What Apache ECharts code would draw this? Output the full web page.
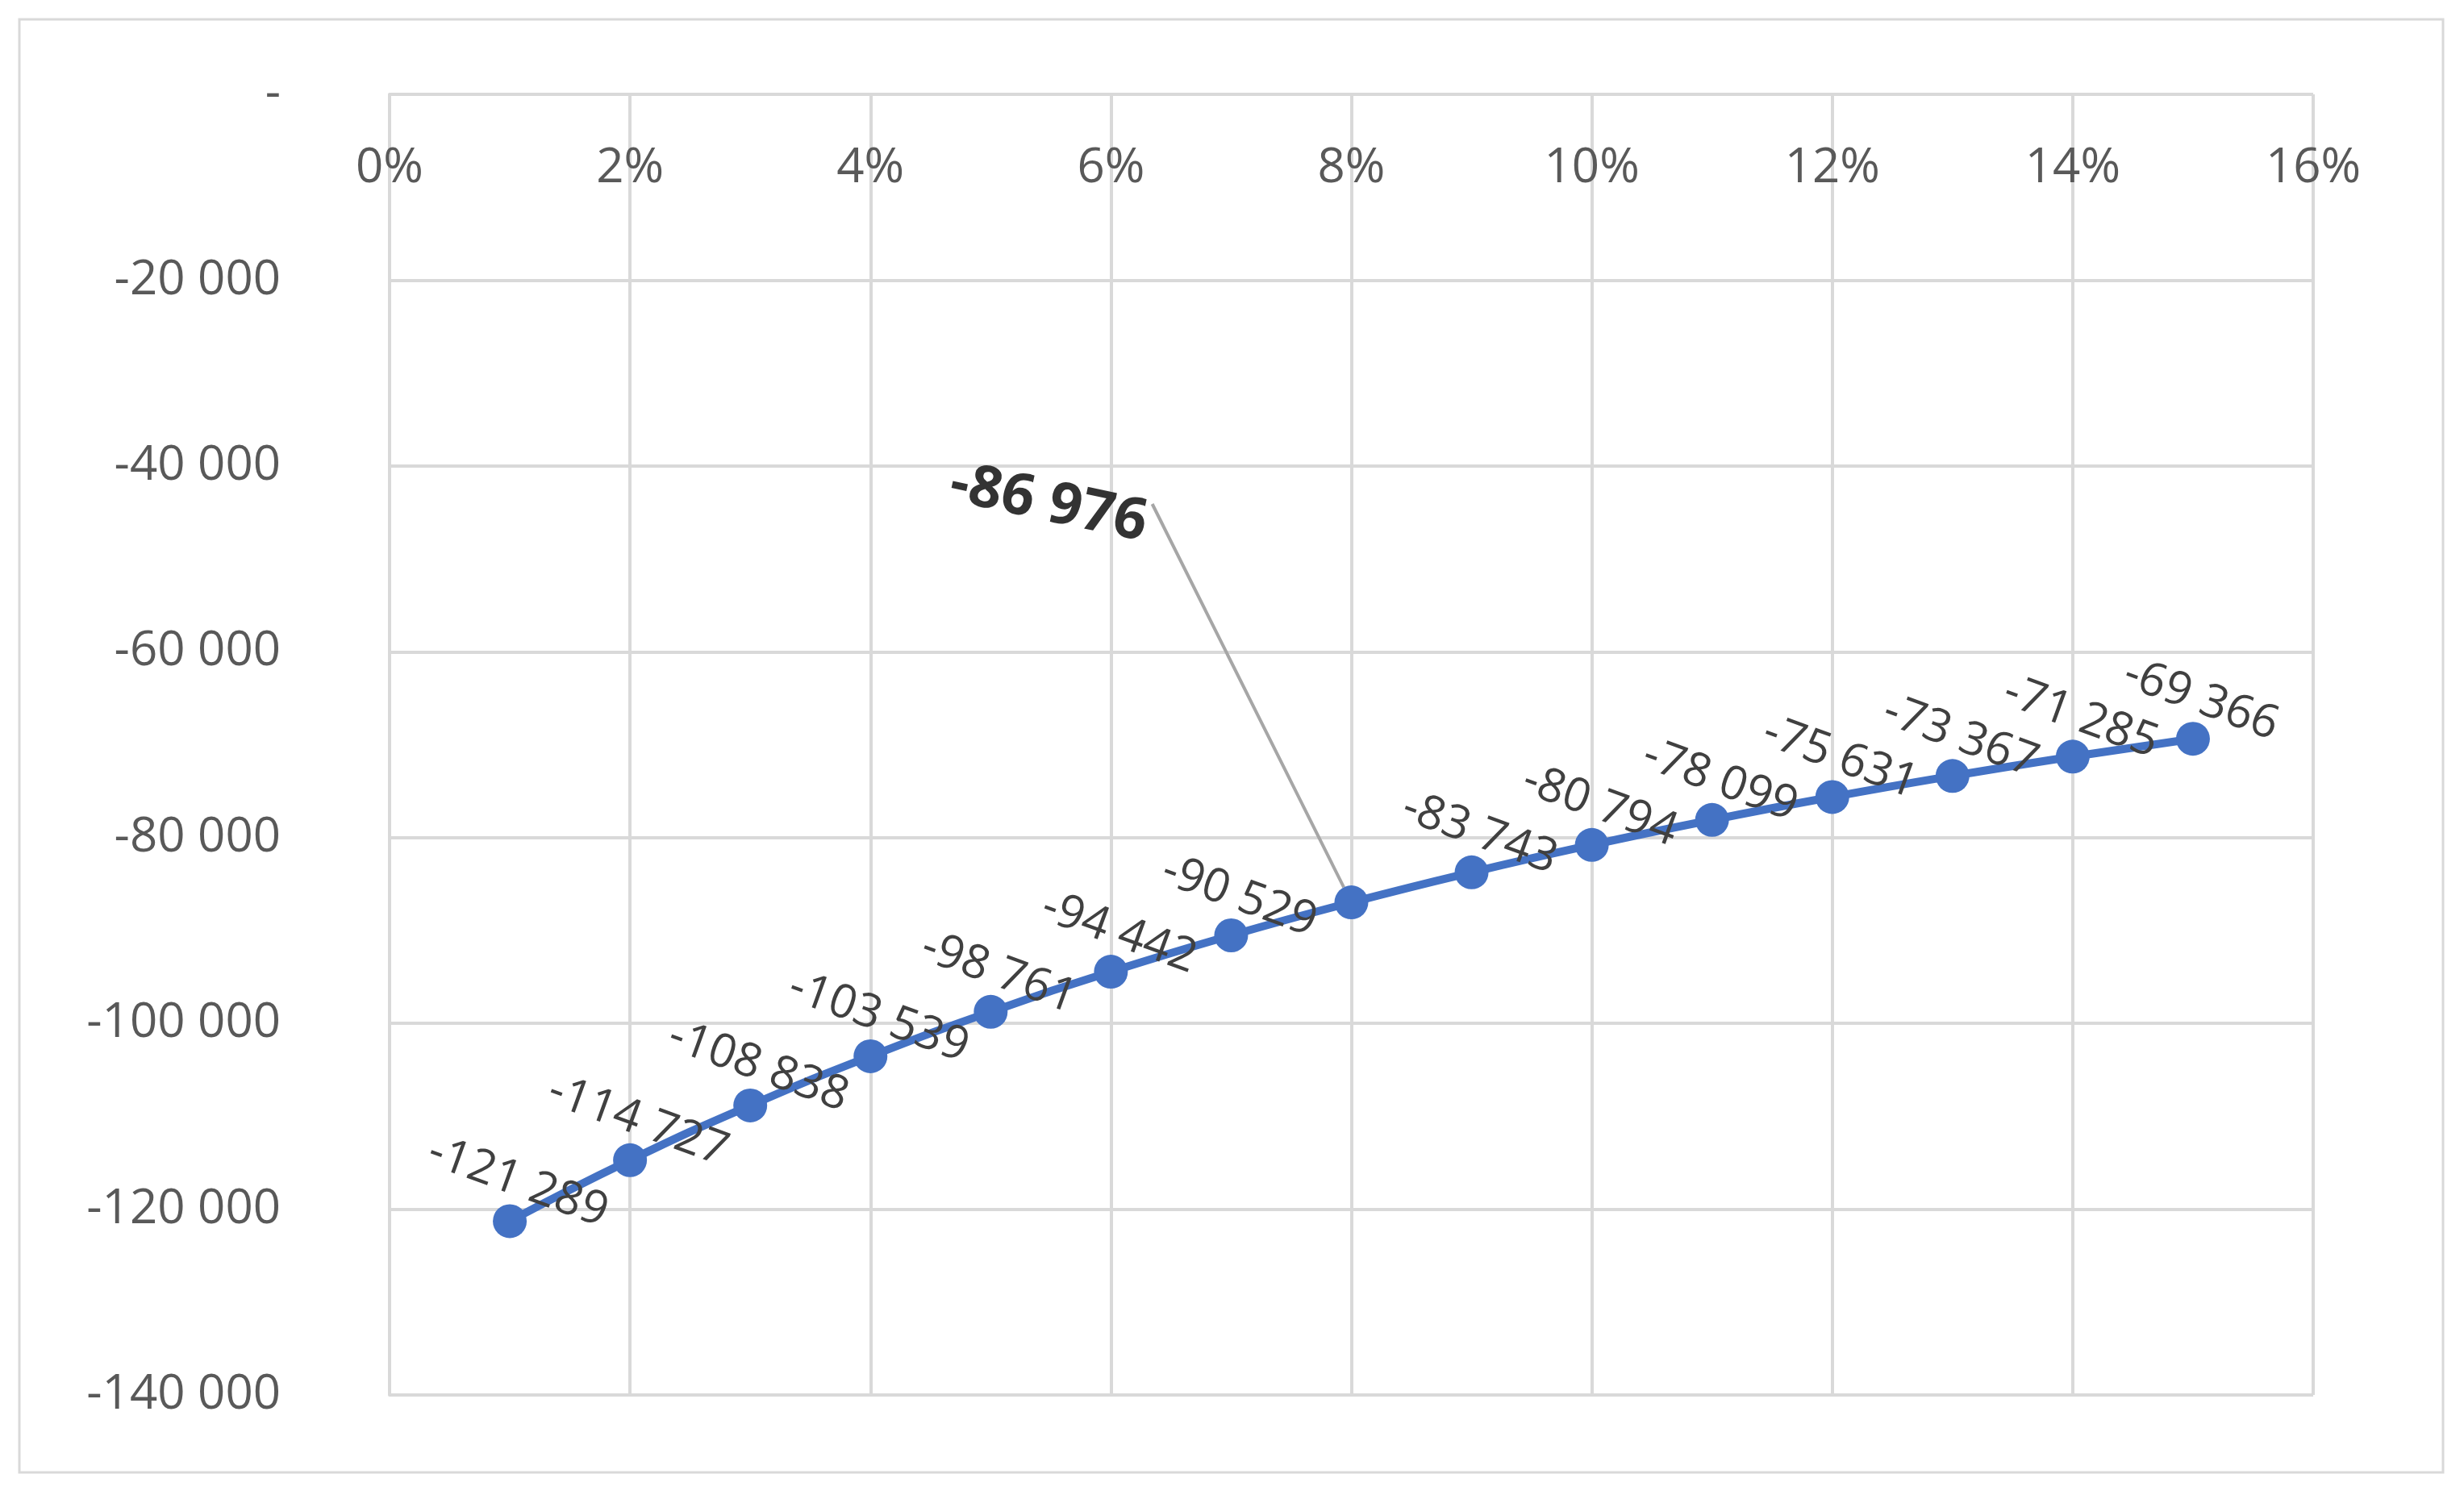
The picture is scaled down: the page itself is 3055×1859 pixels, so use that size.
<!DOCTYPE html>
<html>
<head>
<meta charset="utf-8">
<script src="https://cdn.jsdelivr.net/npm/echarts@6/dist/echarts.min.js"></script>
<style>html,body{margin:0;padding:0;background:#fff}#chart{width:3055px;height:1859px}</style>
</head>
<body>
<div id="chart"></div>
<script>
// data
const rates = [0.01, 0.02, 0.03, 0.04, 0.05, 0.06, 0.07, 0.08, 0.09, 0.10, 0.11, 0.12, 0.13, 0.14, 0.15];
const values = [-121289, -114727, -108838, -103539, -98761, -94442, -90529, -86976, -83743, -80794, -78099, -75631, -73367, -71285, -69366];
const highlightIndex = 7;

function fmt(v) {
  if (v === 0) return '-';
  const s = Math.abs(Math.round(v)).toString().replace(/\B(?=(\d{3})+(?!\d))/g, ' ');
  return (v < 0 ? '-' : '') + s;
}

const font = 'Open Sans';
const seriesData = rates.map((r, i) => {
  const item = { value: [r, values[i]] };
  if (i === highlightIndex) {
    item.label = { fontSize: 72, fontWeight: 'bold', color: '#333', rotate: -12, offset: [0, 0] };
    item.labelLine = { show: true, lineStyle: { color: '#a6a6a6', width: 4 } };
  }
  return item;
});

let myChart = echarts.init(document.getElementById('chart'));
myChart.setOption({
  animation: false,
  textStyle: { fontFamily: font },
  graphic: [{
    type: 'rect', shape: { x: 24, y: 24, width: 3005, height: 1802 },
    style: { fill: 'none', stroke: '#d9d9d9', lineWidth: 3 }
  }],
  grid: { left: 483, right: 187, top: 117, bottom: 129 },
  xAxis: {
    type: 'value', position: 'top', min: 0, max: 0.16, interval: 0.02,
    axisLine: { show: false },
    axisTick: { show: false },
    axisLabel: { inside: true, margin: 62, fontSize: 60, color: '#595959', fontFamily: font,
      formatter: v => Math.round(v * 100) + '%' },
    splitLine: { lineStyle: { color: '#d9d9d9', width: 4 } }
  },
  yAxis: {
    type: 'value', min: -140000, max: 0, interval: 20000,
    axisLine: { show: true, lineStyle: { color: '#d9d9d9', width: 4 } },
    axisTick: { show: false },
    axisLabel: { fontSize: 60, color: '#595959', margin: 135, align: 'right', fontFamily: font,
      formatter: fmt },
    splitLine: { lineStyle: { color: '#d9d9d9', width: 4 } }
  },
  series: [{
    type: 'line', smooth: true, data: seriesData,
    symbol: 'circle', symbolSize: 42,
    lineStyle: { color: '#4472c4', width: 10 },
    itemStyle: { color: '#4472c4' },
    label: {
      show: true, position: 'top', distance: 0, rotate: -20, offset: [-5, -90],
      fontSize: 58, color: '#404040', fontFamily: font,
      formatter: p => fmt(p.value[1])
    },
    labelLayout: function (p) {
      if (p.dataIndex === highlightIndex) {
        return { x: 1300, y: 625, align: 'center', verticalAlign: 'middle' };
      }
      return {};
    }
  }]
});
window.addEventListener('resize', function () { myChart.resize(); });
</script>
</body>
</html>
